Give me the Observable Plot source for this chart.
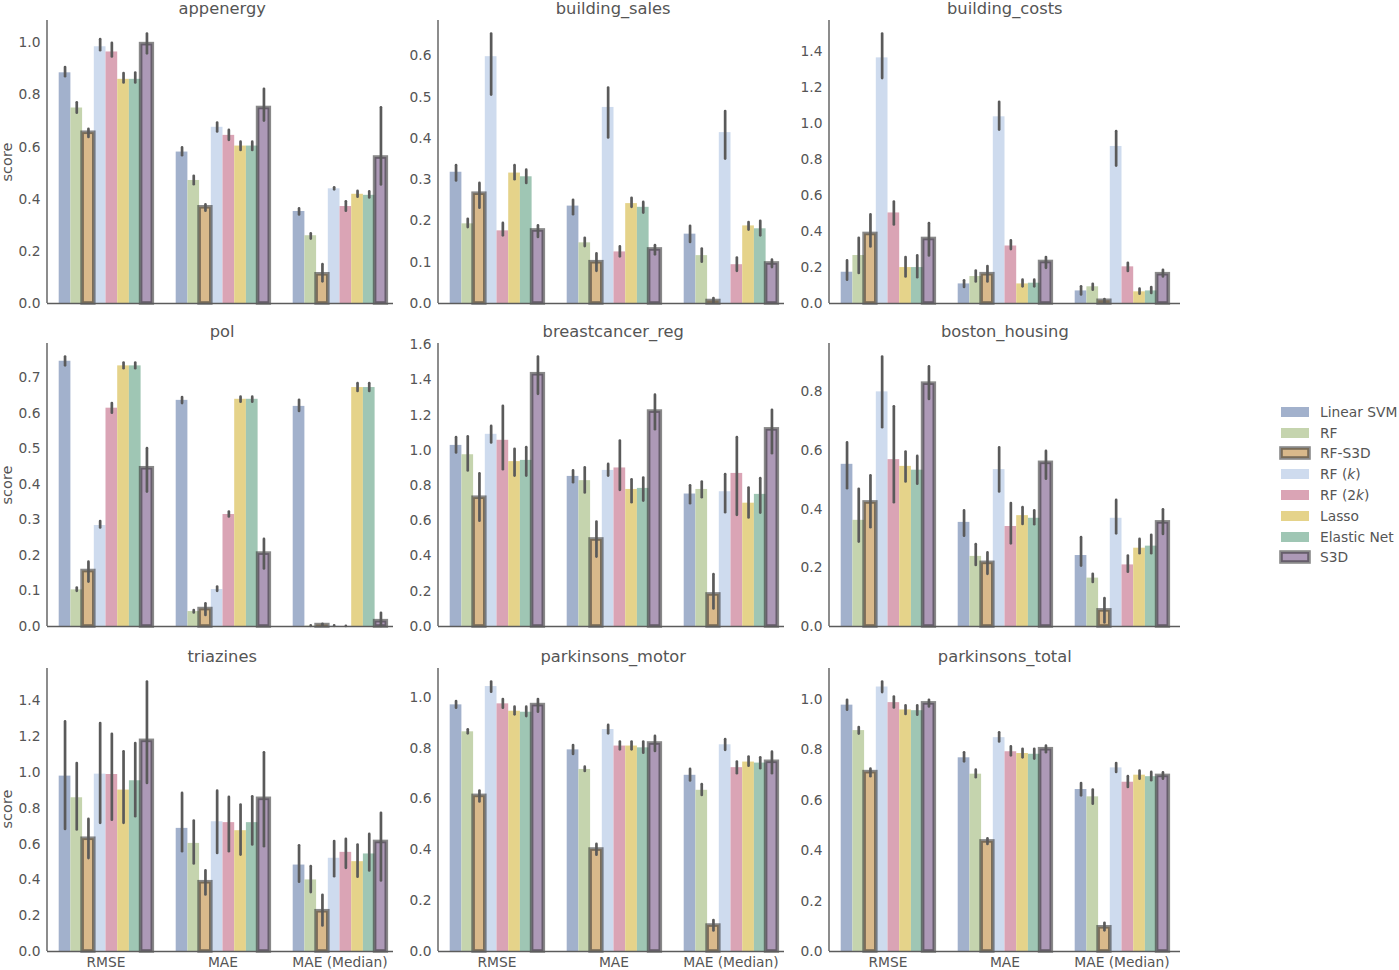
<!DOCTYPE html>
<html><head><meta charset="utf-8">
<script src="https://cdn.jsdelivr.net/npm/d3@7"></script>
<script src="https://cdn.jsdelivr.net/npm/@observablehq/plot@0.6"></script>
<style>
body{margin:0;background:#fff;font-family:"DejaVu Sans",sans-serif;color:#555;}
#root{position:relative;width:1399px;height:970px;overflow:hidden;}
.panel{position:absolute;}
.panel svg text{font-size:13.8px !important;font-family:"DejaVu Sans",sans-serif !important;}
.title{position:absolute;font-size:16.3px;transform:translate(-50%,-50%);white-space:nowrap;color:#555;}
.ylab{position:absolute;font-size:14.5px;transform:translate(-50%,-50%) rotate(-90deg);color:#555;}
.leg{position:absolute;font-size:13.8px;color:#555;white-space:nowrap;transform:translateY(-50%);}
.sw{position:absolute;}
</style></head><body><div id="root"></div><script>
const metrics = ["RMSE", "MAE", "MAE (Median)"];
const models = ["Linear SVM", "RF", "RF-S3D", "RF (k)", "RF (2k)", "Lasso", "Elastic Net", "S3D"];
const legendLabels = ["Linear SVM", "RF", "RF-S3D", "RF (<i>k</i>)", "RF (2<i>k</i>)", "Lasso", "Elastic Net", "S3D"];
const colors = ["#A2B1CC", "#C5D4AE", "#D9B98B", "#CEDBEE", "#DAA4B5", "#E5D38A", "#9FC6B4", "#AD99B7"];
const outlined = ["RF-S3D", "S3D"];

// each row: [mean, ci_low, ci_high]; order: metric-major (RMSE, MAE, MAE (Median)), model-minor
const appenergy = [
  [0.885,0.87,0.905],[0.75,0.73,0.77],[0.655,0.637,0.668],[0.985,0.97,1.012],[0.965,0.946,0.998],[0.86,0.846,0.882],[0.86,0.846,0.884],[0.995,0.958,1.034],
  [0.581,0.567,0.597],[0.472,0.456,0.488],[0.369,0.354,0.378],[0.676,0.658,0.692],[0.645,0.626,0.664],[0.604,0.587,0.619],[0.604,0.587,0.619],[0.75,0.70,0.822],
  [0.353,0.34,0.363],[0.26,0.247,0.267],[0.112,0.083,0.149],[0.44,0.436,0.444],[0.372,0.354,0.39],[0.419,0.408,0.43],[0.415,0.405,0.428],[0.56,0.455,0.751]
];
const building_sales = [
  [0.318,0.297,0.334],[0.193,0.184,0.204],[0.266,0.231,0.291],[0.598,0.505,0.653],[0.176,0.164,0.194],[0.316,0.3,0.334],[0.307,0.291,0.323],[0.177,0.16,0.188],
  [0.236,0.215,0.25],[0.147,0.138,0.158],[0.1,0.078,0.12],[0.475,0.401,0.522],[0.125,0.113,0.137],[0.242,0.233,0.255],[0.233,0.219,0.245],[0.131,0.118,0.14],
  [0.168,0.148,0.187],[0.116,0.1,0.132],[0.006,0.001,0.012],[0.414,0.35,0.465],[0.094,0.078,0.11],[0.188,0.178,0.196],[0.181,0.164,0.199],[0.097,0.087,0.105]
];
const building_costs = [
  [0.174,0.13,0.237],[0.267,0.167,0.363],[0.387,0.315,0.493],[1.367,1.252,1.5],[0.504,0.437,0.565],[0.2,0.148,0.256],[0.2,0.144,0.265],[0.359,0.265,0.444],
  [0.109,0.089,0.126],[0.15,0.12,0.181],[0.163,0.12,0.206],[1.039,0.965,1.12],[0.32,0.3,0.348],[0.109,0.093,0.13],[0.113,0.093,0.13],[0.231,0.196,0.256],
  [0.07,0.048,0.093],[0.093,0.074,0.107],[0.015,0.003,0.022],[0.874,0.765,0.956],[0.204,0.178,0.224],[0.065,0.052,0.08],[0.07,0.056,0.089],[0.163,0.148,0.185]
];
const pol = [
  [0.746,0.733,0.758],[0.103,0.099,0.108],[0.156,0.125,0.181],[0.284,0.277,0.295],[0.614,0.6,0.627],[0.733,0.725,0.741],[0.733,0.725,0.741],[0.445,0.378,0.5],
  [0.636,0.627,0.644],[0.042,0.038,0.045],[0.049,0.031,0.064],[0.104,0.099,0.111],[0.315,0.308,0.322],[0.639,0.631,0.645],[0.639,0.631,0.645],[0.205,0.162,0.245],
  [0.619,0.605,0.636],[0.001,0.0005,0.0015],[0.004,0.002,0.006],[0.001,0.0005,0.0015],[0.0002,0.0001,0.0003],[0.672,0.661,0.683],[0.672,0.661,0.683],[0.015,0.0,0.037]
];
const breastcancer_reg = [
  [1.028,0.985,1.072],[0.975,0.883,1.076],[0.731,0.598,0.867],[1.091,1.042,1.136],[1.057,0.89,1.25],[0.936,0.854,1.006],[0.943,0.854,1.015],[1.432,1.318,1.53],
  [0.852,0.816,0.883],[0.828,0.758,0.9],[0.494,0.394,0.593],[0.886,0.854,0.92],[0.9,0.773,1.053],[0.778,0.703,0.833],[0.784,0.712,0.843],[1.22,1.117,1.313],
  [0.752,0.697,0.799],[0.778,0.731,0.82],[0.182,0.1,0.294],[0.765,0.646,0.862],[0.869,0.631,1.072],[0.70,0.616,0.786],[0.75,0.644,0.839],[1.119,0.981,1.227]
];
const boston_housing = [
  [0.553,0.47,0.626],[0.362,0.288,0.468],[0.423,0.337,0.514],[0.8,0.678,0.919],[0.569,0.422,0.749],[0.546,0.493,0.595],[0.533,0.485,0.58],[0.828,0.774,0.885],
  [0.355,0.308,0.394],[0.239,0.208,0.279],[0.217,0.178,0.251],[0.535,0.459,0.609],[0.341,0.282,0.419],[0.378,0.348,0.405],[0.369,0.347,0.394],[0.558,0.502,0.597],
  [0.242,0.206,0.303],[0.165,0.15,0.178],[0.055,0.012,0.095],[0.369,0.316,0.43],[0.21,0.185,0.24],[0.267,0.248,0.297],[0.274,0.248,0.311],[0.355,0.314,0.398]
];
const triazines = [
  [0.98,0.682,1.283],[0.859,0.679,1.05],[0.63,0.519,0.738],[0.991,0.716,1.274],[0.989,0.734,1.214],[0.902,0.716,1.116],[0.954,0.753,1.162],[1.177,0.939,1.506],
  [0.688,0.558,0.883],[0.604,0.489,0.729],[0.387,0.316,0.45],[0.725,0.548,0.896],[0.72,0.558,0.861],[0.675,0.539,0.818],[0.72,0.595,0.864],[0.853,0.586,1.11],
  [0.483,0.387,0.591],[0.4,0.329,0.474],[0.225,0.143,0.314],[0.521,0.418,0.614],[0.554,0.465,0.627],[0.502,0.415,0.595],[0.545,0.45,0.654],[0.612,0.394,0.772]
];
const parkinsons_motor = [
  [0.97,0.957,0.983],[0.864,0.856,0.872],[0.612,0.588,0.631],[1.042,1.02,1.06],[0.974,0.957,0.991],[0.945,0.931,0.961],[0.941,0.924,0.961],[0.969,0.941,0.991],
  [0.793,0.775,0.81],[0.716,0.708,0.725],[0.401,0.379,0.421],[0.873,0.856,0.889],[0.808,0.793,0.824],[0.808,0.793,0.824],[0.801,0.78,0.824],[0.818,0.787,0.846],
  [0.693,0.671,0.716],[0.634,0.614,0.656],[0.102,0.081,0.122],[0.813,0.791,0.833],[0.723,0.699,0.745],[0.745,0.729,0.765],[0.741,0.719,0.762],[0.746,0.699,0.784]
];
const parkinsons_total = [
  [0.978,0.958,0.997],[0.877,0.863,0.889],[0.712,0.694,0.724],[1.05,1.028,1.07],[0.988,0.967,1.01],[0.959,0.941,0.975],[0.956,0.938,0.975],[0.985,0.971,0.997],
  [0.769,0.753,0.789],[0.704,0.69,0.72],[0.437,0.425,0.447],[0.849,0.832,0.868],[0.793,0.777,0.812],[0.786,0.769,0.803],[0.783,0.764,0.803],[0.803,0.789,0.815],
  [0.643,0.618,0.667],[0.614,0.585,0.641],[0.096,0.082,0.112],[0.729,0.711,0.746],[0.672,0.651,0.694],[0.70,0.684,0.716],[0.694,0.678,0.711],[0.697,0.684,0.709]
];

const panelNames = ["appenergy","building_sales","building_costs","pol","breastcancer_reg","boston_housing","triazines","parkinsons_motor","parkinsons_total"];
const panelData = [appenergy, building_sales, building_costs, pol, breastcancer_reg, boston_housing, triazines, parkinsons_motor, parkinsons_total];
const ticks02_10 = [0, 0.2, 0.4, 0.6, 0.8, 1.0];
const ticks01_06 = [0, 0.1, 0.2, 0.3, 0.4, 0.5, 0.6];
const ticks02_14 = [0, 0.2, 0.4, 0.6, 0.8, 1.0, 1.2, 1.4];
const ticks01_07 = [0, 0.1, 0.2, 0.3, 0.4, 0.5, 0.6, 0.7];
const ticks02_16 = [0, 0.2, 0.4, 0.6, 0.8, 1.0, 1.2, 1.4, 1.6];
const ticks02_08 = [0, 0.2, 0.4, 0.6, 0.8];
const panelTicks = [ticks02_10, ticks01_06, ticks02_14, ticks01_07, ticks02_16, ticks02_08, ticks02_14, ticks02_10, ticks02_10];

const root = document.getElementById("root");
const colLeft = [46.7, 437.7, 829.3];
const rowTop = [20, 343.3, 667.7];
const W = 351, H = 283, mL = 45, mR = 5, mT = 10, mB = 25;
const axisColor = "#5c5c5c";
const edgeColor = "#333", edgeOpacity = 0.58, edgeWidth = 3.6;

panelNames.forEach((name, p) => {
  const col = p % 3, row = Math.floor(p / 3);
  const data = panelData[p].map(([mean, lo, hi], i) => ({metric: metrics[Math.floor(i / 8)], model: models[i % 8], mean, lo, hi}));
  const ymax = d3.max(data, d => d.hi) * 1.05;
  const gap = 0.1 * W / 3; // outer padding of the facet band scale
  const chart = Plot.plot({
    width: W + mL + mR, height: H + mT + mB,
    marginLeft: mL, marginRight: mR, marginTop: mT, marginBottom: mB,
    style: {fontFamily: "DejaVu Sans", fontSize: "13.8px", color: "#555", background: "white", overflow: "visible"},
    fx: {domain: metrics, paddingInner: 0.2, paddingOuter: 0.1, round: false, label: null,
         axis: row === 2 ? "bottom" : null, tickSize: 0, tickPadding: 6},
    x: {domain: models, padding: 0, round: false, axis: null},
    y: {domain: [0, ymax], axis: "left", ticks: panelTicks[p], tickSize: 0, tickPadding: 7 + gap, tickFormat: d3.format(".1f"), label: null},
    color: {domain: models, range: colors},
    marks: [
      Plot.barY(data, {fx: "metric", x: "model", y: "mean", fill: "model"}),
      Plot.barY(data.filter(d => outlined.includes(d.model)), {fx: "metric", x: "model", y: "mean", fill: "none", stroke: edgeColor, strokeOpacity: edgeOpacity, strokeWidth: edgeWidth}),
      Plot.ruleX(data, {fx: "metric", x: "model", y1: "lo", y2: "hi", stroke: "#5a5a5a", strokeWidth: 2.7, strokeLinecap: "round"}),
      Plot.ruleY([0], {stroke: axisColor, strokeWidth: 1.4, insetLeft: -gap, insetRight: -gap})
    ]
  });
  d3.select(chart).append("line")
    .attr("x1", mL).attr("x2", mL).attr("y1", mT).attr("y2", mT + H)
    .attr("stroke", axisColor).attr("stroke-width", 1.4);
  const div = document.createElement("div");
  div.className = "panel";
  div.style.left = (colLeft[col] - mL) + "px";
  div.style.top = (rowTop[row] - mT) + "px";
  div.appendChild(chart);
  root.appendChild(div);

  const t = document.createElement("div");
  t.className = "title";
  t.textContent = name;
  t.style.left = (colLeft[col] + W / 2) + "px";
  t.style.top = (rowTop[row] - 12) + "px";
  root.appendChild(t);

  if (col === 0) {
    const yl = document.createElement("div");
    yl.className = "ylab";
    yl.textContent = "score";
    yl.style.left = "6.7px";
    yl.style.top = (rowTop[row] + H / 2) + "px";
    root.appendChild(yl);
  }
});

// legend
models.forEach((m, i) => {
  const cy = 411.7 + i * 20.8;
  const sw = d3.create("svg").attr("width", 36).attr("height", 18).attr("class", "sw")
    .style("left", (1277) + "px").style("top", (cy - 9) + "px");
  const r = sw.append("rect").attr("x", 4).attr("y", 4).attr("width", 28).attr("height", 10).attr("fill", colors[i]);
  if (outlined.includes(m)) r.attr("stroke", edgeColor).attr("stroke-opacity", edgeOpacity).attr("stroke-width", edgeWidth);
  root.appendChild(sw.node());
  const lab = document.createElement("div");
  lab.className = "leg";
  lab.innerHTML = legendLabels[i];
  lab.style.left = "1320px";
  lab.style.top = cy + "px";
  root.appendChild(lab);
});
</script></body></html>
